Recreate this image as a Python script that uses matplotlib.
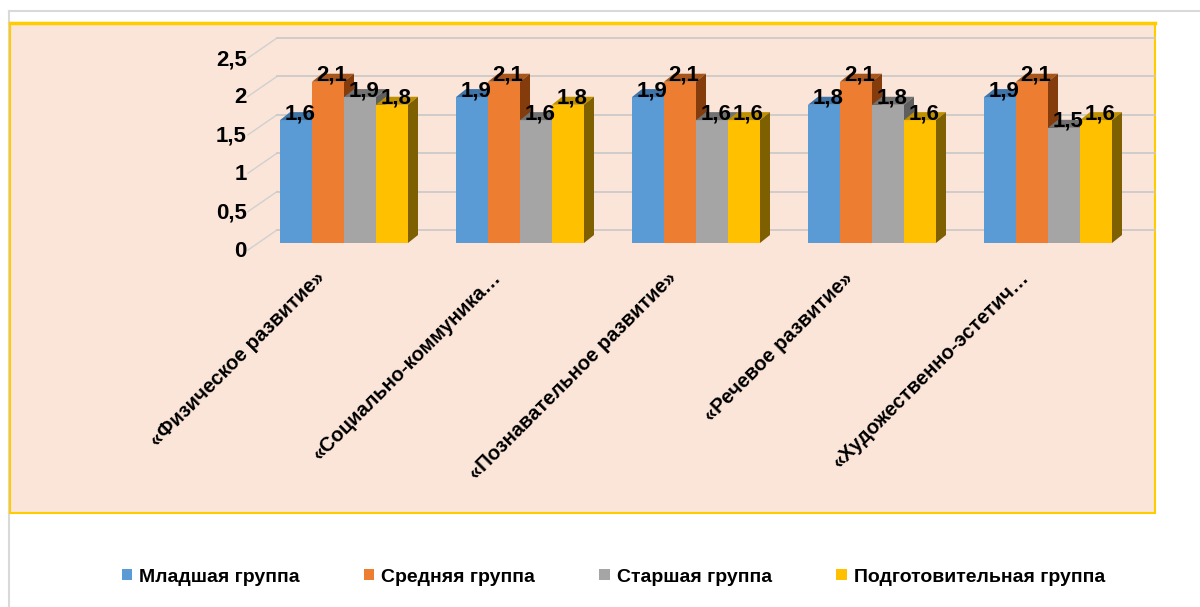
import matplotlib.pyplot as plt
import matplotlib.transforms as mtransforms
from matplotlib.patches import Rectangle, Polygon, Patch
from matplotlib.lines import Line2D
import numpy as np

plt.rcParams['font.family'] = ['Liberation Sans', 'DejaVu Sans']

categories = ['«Физическое развитие»', '«Социально-коммуника…', '«Познавательное развитие»',
              '«Речевое развитие»', '«Художественно-эстетич…']
groups = ['Младшая группа', 'Средняя группа', 'Старшая группа', 'Подготовительная группа']
mladshaya = [1.6, 1.9, 1.9, 1.8, 1.9]
srednyaya = [2.1, 2.1, 2.1, 2.1, 2.1]
starshaya = [1.9, 1.6, 1.6, 1.8, 1.5]
podgotov = [1.8, 1.8, 1.6, 1.6, 1.6]
series = [mladshaya, srednyaya, starshaya, podgotov]
yticks = [0, 0.5, 1, 1.5, 2, 2.5]
ytick_labels = ['0', '0,5', '1', '1,5', '2', '2,5']

front = ['#5B9BD5', '#ED7D31', '#A5A5A5', '#FFC000']
top = ['#3F74A8', '#A9561D', '#727272', '#BF9000']
side = ['#2E5C8A', '#843C0C', '#5F5F5F', '#7F6000']

W, H, DPI = 1200, 607, 100
fig = plt.figure(figsize=(W / DPI, H / DPI), dpi=DPI)
fig.patch.set_facecolor('white')

def px(x, y):
    # pixel offset (image coords: y down) as a transform
    return mtransforms.ScaledTranslation(x / DPI, -y / DPI, fig.dpi_scale_trans)

# outer frame + peach chart area
fig.add_artist(Line2D([9 / W, 1], [1 - 11 / H] * 2, color='#D9D9D9', lw=1.5, transform=fig.transFigure, zorder=-2))
fig.add_artist(Line2D([9 / W] * 2, [0, 1 - 11 / H], color='#D9D9D9', lw=1.5, transform=fig.transFigure, zorder=-2))
fig.add_artist(Rectangle((10 / W, 1 - 513 / H), (1155 - 10) / W, (513 - 23) / H, zorder=-2,
                         transform=fig.transFigure, facecolor='#FAE5D8', edgecolor='#FFCC00', lw=1.5))
fig.add_artist(Line2D([10 / W, 1155 / W], [1 - 23 / H] * 2, color='#FFCC00', lw=2.5,
                      transform=fig.transFigure, zorder=-2))

# axes: value 0 at y=243px, 2.5 at y=51px; group spacing 176px, first group center at 344px
ax_l, ax_r = 262, 1155
ax = fig.add_axes([ax_l / W, 1 - 243 / H, (ax_r - ax_l) / W, 192 / H])
ax.set_zorder(2)
ax.set_facecolor('none')
spacing = 176
ax.set_xlim((ax_l - 344) / spacing, (ax_r - 344) / spacing)
ax.set_ylim(0, 2.5)
for s in ax.spines.values():
    s.set_visible(False)

# back-wall gridlines (13px above the front plane) with perspective stubs on the left
gx0 = (277 - ax_l) / (ax_r - ax_l)
gxl = (248 - ax_l) / (ax_r - ax_l)
blend = mtransforms.blended_transform_factory(ax.transAxes, ax.transData)
for v in yticks:
    ax.plot([gx0, 1], [v, v], color='#C8C8C8', lw=1.2, transform=blend + px(0, -13), clip_on=False, zorder=1)
    p0 = blend.transform((gxl, v)) + np.array([0, -7])
    p1 = blend.transform((gx0, v)) + np.array([0, 13])
    fig.add_artist(Line2D([p0[0] / W, p1[0] / W], [p0[1] / H, p1[1] / H], color='#D0D0D0', lw=1.0,
                          transform=fig.transFigure, zorder=-1))

# 3D bars
w = 32 / spacing
ddx = 10 / spacing
ddy = 8 / (192 / 2.5)
x = np.arange(len(categories))
z = 3
for i in range(len(categories)):
    for j, vals in enumerate(series):
        xc = x[i] + (j - 1.5) * w
        v = vals[i]
        ax.bar(xc, v, width=w, color=front[j], zorder=z)
        ax.add_patch(Polygon([(xc - w / 2, v), (xc + w / 2, v), (xc + w / 2 + ddx, v + ddy),
                              (xc - w / 2 + ddx, v + ddy)], closed=True, facecolor=top[j],
                             edgecolor='none', zorder=z, clip_on=False))
        ax.add_patch(Polygon([(xc + w / 2, 0), (xc + w / 2, v), (xc + w / 2 + ddx, v + ddy),
                              (xc + w / 2 + ddx, ddy)], closed=True, facecolor=side[j],
                             edgecolor='none', zorder=z, clip_on=False))
        z += 1

# data labels
for i in range(len(categories)):
    for j, vals in enumerate(series):
        xc = x[i] + (j - 1.5) * w
        ax.text(xc, vals[i], str(vals[i]).replace('.', ','), ha='center', va='baseline',
                fontsize=16, fontweight='bold', color='black', zorder=100,
                transform=ax.transData + px(4, -1))

# y tick labels
ax.set_yticks(yticks)
ax.set_yticklabels(ytick_labels, fontsize=16, fontweight='bold')
ax.tick_params(axis='y', length=0, pad=11)
for lab in ax.get_yticklabels():
    lab.set_transform(lab.get_transform() + px(0, 6))

# category labels
ax.set_xticks(x)
ax.set_xticklabels(categories, fontsize=14.5, fontweight='bold', rotation=45,
                   ha='right', va='center', rotation_mode='anchor')
ax.tick_params(axis='x', length=0, pad=0)
for lab in ax.get_xticklabels():
    lab.set_transform(lab.get_transform() + px(-22, 32))

# legend
handles = [Patch(facecolor=c, edgecolor='none') for c in front]
fig.legend(handles, groups, loc='center', bbox_to_anchor=(0.511, 1 - 577 / H), ncol=4, frameon=False,
           prop={'size': 14, 'weight': 'bold'}, handlelength=0.55, handleheight=0.55,
           handletextpad=0.35, columnspacing=3.3)

fig.savefig('out.png', dpi=DPI)
